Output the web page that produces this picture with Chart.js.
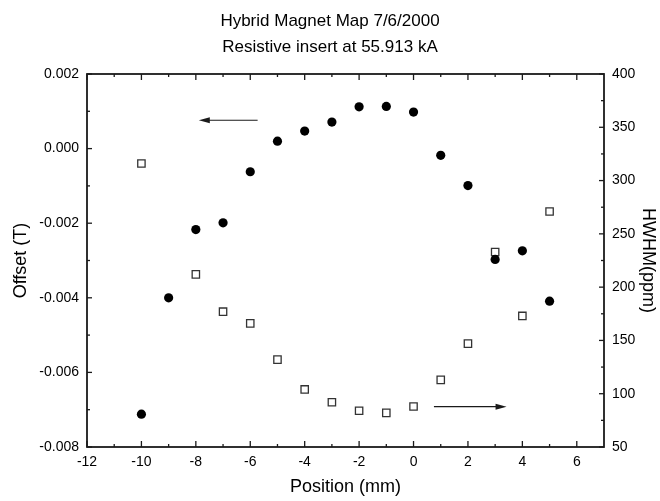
<!DOCTYPE html>
<html>
<head>
<meta charset="utf-8">
<script src="https://cdn.jsdelivr.net/npm/chart.js@4.4.0/dist/chart.umd.min.js"></script>
<style>
body { margin: 0; background: #fff; }
#box { width: 660px; height: 501px; }
</style>
</head>
<body>
<div id="box"><canvas id="c"></canvas></div>
<script>
// values
let position = [-10, -9, -8, -7, -6, -5, -4, -3, -2, -1, 0, 1, 2, 3, 4, 5]
let offset = [-0.00712, -0.0040, -0.00217, -0.00199, -0.00062, 0.00020, 0.00047, 0.00071,
              0.00112, 0.00113, 0.00098, -0.00018, -0.00099, -0.00297, -0.00274, -0.00409]
let hwhmPosition = [-10, -8, -7, -6, -5, -4, -3, -2, -1, 0, 1, 2, 3, 4, 5]
let hwhm = [316, 212, 177, 166, 132, 104, 92, 84, 82, 88, 113, 147, 233, 173, 271]

let xTicks = [-12, -10, -8, -6, -4, -2, 0, 2, 4, 6]
let offsetTicks = [-0.008, -0.006, -0.004, -0.002, 0, 0.002]
let hwhmTicks = [50, 100, 150, 200, 250, 300, 350, 400]

// arrows telling which axis belongs to which series (x, offset coords)
let arrows = [
    { from: [-5.73, 0.00076], to: [-7.89, 0.00076] },
    { from: [0.75, -0.00692], to: [3.42, -0.00692] }
]

let ink = '#1a1a1a'

let drawTicks = function(ctx, scale, list, len, side, area){
    list.forEach(function(v){
        let p = scale.getPixelForValue(v)
        ctx.beginPath()
        if(side === 'x'){
            ctx.moveTo(p, area.bottom); ctx.lineTo(p, area.bottom - len)
            ctx.moveTo(p, area.top); ctx.lineTo(p, area.top + len)
        } else if(side === 'left'){
            ctx.moveTo(area.left, p); ctx.lineTo(area.left + len, p)
        } else {
            ctx.moveTo(area.right, p); ctx.lineTo(area.right - len, p)
        }
        ctx.stroke()
    })
}

let minors = function(list){
    let out = []
    for(let i = 0 ; i < list.length - 1 ; i++){
        out.push((list[i] + list[i+1]) / 2)
    }
    return out
}

let frame = {
    id: 'frame',
    afterDraw: function(chart){
        let ctx = chart.ctx
        let a = chart.chartArea
        let sx = chart.scales.x, sy = chart.scales.y, sy2 = chart.scales.y2
        ctx.save()
        ctx.strokeStyle = ink
        ctx.lineWidth = 1.3
        drawTicks(ctx, sx, xTicks, 6, 'x', a)
        drawTicks(ctx, sx, minors(xTicks), 3, 'x', a)
        drawTicks(ctx, sy, offsetTicks, 5, 'left', a)
        drawTicks(ctx, sy, minors(offsetTicks), 3, 'left', a)
        drawTicks(ctx, sy2, hwhmTicks, 5, 'right', a)
        drawTicks(ctx, sy2, minors(hwhmTicks), 3, 'right', a)

        ctx.lineWidth = 1.8
        ctx.strokeRect(a.left, a.top, a.right - a.left, a.bottom - a.top)

        ctx.lineWidth = 1.2
        ctx.fillStyle = ink
        arrows.forEach(function(ar){
            let x1 = sx.getPixelForValue(ar.from[0]), y1 = sy.getPixelForValue(ar.from[1])
            let x2 = sx.getPixelForValue(ar.to[0]), y2 = sy.getPixelForValue(ar.to[1])
            let dir = x2 > x1 ? 1 : -1
            ctx.beginPath()
            ctx.moveTo(x1, y1)
            ctx.lineTo(x2 - dir * 8, y2)
            ctx.stroke()
            ctx.beginPath()
            ctx.moveTo(x2, y2)
            ctx.lineTo(x2 - dir * 11, y2 - 3)
            ctx.lineTo(x2 - dir * 11, y2 + 3)
            ctx.closePath()
            ctx.fill()
        })
        ctx.restore()
    }
}

Chart.defaults.font.family = '"Liberation Sans", Arial, sans-serif'
Chart.defaults.color = '#000'

new Chart(document.getElementById('c'), {
    type: 'scatter',
    data: {
        datasets: [{
            label: 'Offset',
            data: position.map(function(x, i){ return { x: x, y: offset[i] } }),
            yAxisID: 'y',
            pointStyle: 'circle',
            pointRadius: 4.6,
            backgroundColor: '#000',
            borderColor: '#000',
            borderWidth: 0
        }, {
            label: 'HWHM',
            data: hwhmPosition.map(function(x, i){ return { x: x, y: hwhm[i] } }),
            yAxisID: 'y2',
            pointStyle: 'rect',
            pointRadius: 5.2,
            backgroundColor: '#fff',
            borderColor: '#333',
            borderWidth: 1.3
        }]
    },
    options: {
        responsive: true,
        maintainAspectRatio: false,
        animation: false,
        layout: { padding: 0 },
        plugins: {
            legend: { display: false },
            tooltip: { enabled: false },
            title: {
                display: true,
                text: ['Hybrid Magnet Map 7/6/2000', 'Resistive insert at 55.913 kA'],
                font: { size: 17, weight: 'normal', lineHeight: 1.5 },
                color: '#000',
                padding: { top: 9, bottom: 14 }
            }
        },
        scales: {
            x: {
                type: 'linear',
                min: -12,
                max: 7,
                afterBuildTicks: function(s){ s.ticks = xTicks.map(function(v){ return { value: v } }) },
                afterFit: function(s){ s.height = 54 },
                ticks: { font: { size: 14 }, color: '#000', padding: 7 },
                grid: { display: false, drawTicks: false },
                border: { display: false },
                title: { display: true, text: 'Position (mm)', font: { size: 18 }, color: '#000', padding: { top: 0, bottom: 3 } }
            },
            y: {
                position: 'left',
                min: -0.008,
                max: 0.002,
                afterBuildTicks: function(s){ s.ticks = offsetTicks.map(function(v){ return { value: v } }) },
                afterFit: function(s){ s.width = 87 },
                ticks: { font: { size: 14 }, color: '#000', padding: 8, callback: function(v){ return v.toFixed(3) } },
                grid: { display: false, drawTicks: false },
                border: { display: false },
                title: { display: true, text: 'Offset (T)', font: { size: 18 }, color: '#000', padding: { top: 10, bottom: 0 } }
            },
            y2: {
                position: 'right',
                min: 50,
                max: 400,
                afterBuildTicks: function(s){ s.ticks = hwhmTicks.map(function(v){ return { value: v } }) },
                afterFit: function(s){ s.width = 56 },
                ticks: { font: { size: 14 }, color: '#000', padding: 8 },
                grid: { display: false, drawTicks: false },
                border: { display: false },
                title: { display: true, text: 'HWHM(ppm)', font: { size: 18 }, color: '#000', padding: { top: 1, bottom: 0 } }
            }
        }
    },
    plugins: [frame]
})
</script>
</body>
</html>
